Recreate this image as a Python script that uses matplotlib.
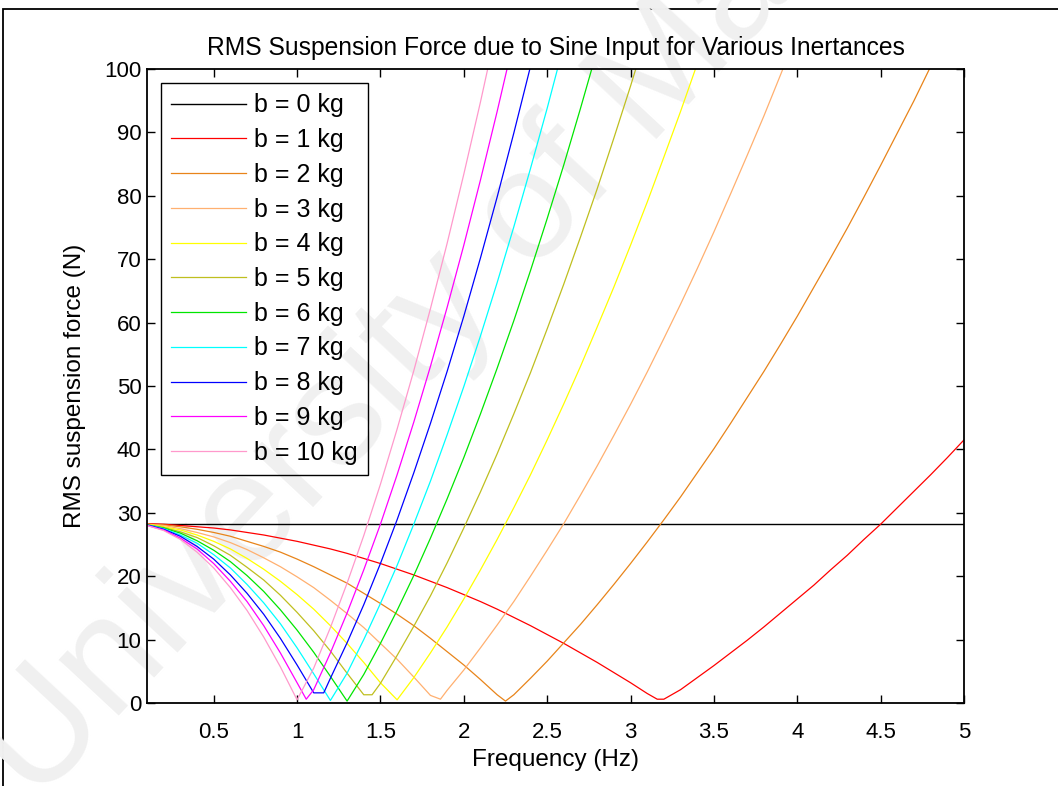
import matplotlib.pyplot as plt
from matplotlib.patches import Rectangle

plt.rcParams["font.family"] = ["Liberation Sans", "DejaVu Sans"]

# frequency grid (Hz) read along the x axis
freq = [0.1, 0.2, 0.3, 0.4, 0.5, 0.6, 0.7, 0.8, 0.9, 1.0,
        1.1, 1.2, 1.3, 1.4, 1.5, 1.6, 1.7, 1.8, 1.9, 2.0,
        2.1, 2.2, 2.3, 2.4, 2.5, 2.6, 2.7, 2.8, 2.9, 3.0,
        3.1, 3.2, 3.3, 3.4, 3.5, 3.6, 3.7, 3.8, 3.9, 4.0,
        4.1, 4.2, 4.3, 4.4, 4.5, 4.6, 4.7, 4.8, 4.9, 5.0]

# b = 0 kg: flat line
freq_b0 = [0.1, 5.0]
force_b0 = [28.28, 28.28]

# RMS force (N) for b = 1..10 kg, each runs until it leaves the top of the plot
force_b1 = [28.3, 28.2, 28.0, 27.8, 27.6, 27.3, 26.9, 26.5, 26.0, 25.5,
            24.9, 24.3, 23.6, 22.8, 22.0, 21.1, 20.2, 19.2, 18.2, 17.1,
            16.0, 14.8, 13.5, 12.2, 10.8, 9.4, 7.9, 6.4, 4.8, 3.2,
            1.5, 0.6, 2.1, 4.0, 5.9, 7.9, 9.9, 12.0, 14.2, 16.4,
            18.6, 21.0, 23.3, 25.8, 28.2, 30.8, 33.4, 36.0, 38.7, 41.5]
force_b2 = [28.2, 28.1, 27.8, 27.4, 26.9, 26.3, 25.5, 24.7, 23.8, 22.7,
            21.5, 20.2, 18.9, 17.3, 15.7, 14.0, 12.2, 10.2, 8.1, 6.0,
            3.7, 1.3, 1.3, 3.9, 6.6, 9.5, 12.4, 15.5, 18.7, 22.0,
            25.4, 28.9, 32.5, 36.3, 40.1, 44.1, 48.2, 52.3, 56.6, 61.0,
            65.6, 70.2, 74.9, 79.8, 84.8, 89.9, 95.0, 100.4]
force_b3 = [28.2, 28.0, 27.5, 26.9, 26.2, 25.3, 24.2, 22.9, 21.5, 19.9,
            18.2, 16.2, 14.1, 11.9, 9.4, 6.9, 4.1, 1.2, 2.0, 5.2,
            8.7, 12.3, 16.0, 20.0, 24.1, 28.3, 32.8, 37.4, 42.2, 47.1,
            52.2, 57.5, 62.9, 68.5, 74.3, 80.3, 86.4, 92.6, 99.1, 105.7]
force_b4 = [28.2, 27.8, 27.3, 26.5, 25.5, 24.3, 22.8, 21.1, 19.2, 17.1,
            14.8, 12.2, 9.4, 6.4, 3.2, 0.5, 4.0, 7.9, 12.0, 16.4,
            21.0, 25.8, 30.8, 36.0, 41.5, 47.2, 53.1, 59.3, 65.6, 72.2,
            79.0, 86.1, 93.3, 100.8]
force_b5 = [28.1, 27.7, 27.0, 26.1, 24.8, 23.3, 21.4, 19.4, 17.0, 14.3,
            11.4, 8.2, 4.7, 1.3, 3.1, 7.5, 12.1, 16.9, 22.1, 27.6,
            33.3, 39.3, 45.6, 52.1, 59.0, 66.1, 73.5, 81.1, 89.1, 97.3,
            105.9]
force_b6 = [28.1, 27.6, 26.8, 25.6, 24.1, 22.3, 20.1, 17.6, 14.7, 11.5,
            8.0, 4.2, 0.3, 4.5, 9.4, 14.6, 20.1, 26.0, 32.2, 38.7,
            45.6, 52.8, 60.3, 68.2, 76.4, 84.9, 93.8, 103.0]
force_b7 = [28.1, 27.5, 26.5, 25.2, 23.4, 21.3, 18.7, 15.8, 12.5, 8.7,
            4.6, 0.4, 4.7, 10.0, 15.7, 21.7, 28.2, 35.0, 42.3, 49.9,
            57.9, 66.3, 75.1, 84.3, 93.8, 103.8]
force_b8 = [28.1, 27.4, 26.3, 24.7, 22.7, 20.2, 17.3, 14.0, 10.2, 6.0,
            1.6, 3.9, 9.5, 15.5, 22.0, 28.9, 36.3, 44.1, 52.3, 61.0,
            70.2, 79.8, 89.9, 100.4]
force_b9 = [28.0, 27.3, 26.0, 24.3, 22.0, 19.2, 16.0, 12.2, 7.9, 3.2,
            2.1, 7.9, 14.2, 21.0, 28.2, 36.0, 44.3, 53.1, 62.4, 72.2,
            82.5, 93.3, 104.6]
force_b10 = [28.0, 27.2, 25.8, 23.8, 21.3, 18.2, 14.6, 10.4, 5.7, 0.5,
             5.5, 11.9, 18.9, 26.4, 34.5, 43.2, 52.4, 62.2, 72.5, 83.4,
             94.8, 106.8]

# extra points at the notch of each curve (between grid frequencies)
dip_freq = [3.16, 2.25, 1.86, None, 1.45, None, None, 1.16, 1.055, None]
dip_force = [0.6, 0.3, 0.6, None, 1.3, None, None, 1.6, 0.6, None]

labels = [f"b = {b} kg" for b in range(11)]
colors = ["#000000", "#ff0000", "#e8841a", "#ffb070", "#ffff00", "#bfbf1f",
          "#00e600", "#00ffff", "#0000ff", "#ff00ff", "#ff99cc"]

x_ticks = [0.5, 1, 1.5, 2, 2.5, 3, 3.5, 4, 4.5, 5]
x_tick_labels = ["0.5", "1", "1.5", "2", "2.5", "3", "3.5", "4", "4.5", "5"]
y_ticks = [0, 10, 20, 30, 40, 50, 60, 70, 80, 90, 100]

fig = plt.figure(figsize=(10.58, 7.86), dpi=100)

# page frame and watermark (behind the axes)
fig.patches.append(Rectangle((0.003, -0.05), 1.2, 0.9885 + 0.05, transform=fig.transFigure,
                             fill=False, edgecolor="black", linewidth=1.3, zorder=-2))
fig.text(0.4565, 0.662, "University of Malaya", rotation=47, ha="center", va="center",
         fontsize=112, color="#f0f0f0", zorder=-1)

ax = fig.add_axes([147 / 1058, 1 - 703 / 786, 817 / 1058, 634 / 786])
ax.set_facecolor("none")

ax.plot(freq_b0, force_b0, color=colors[0], linewidth=1.0, label=labels[0])
curves = [force_b1, force_b2, force_b3, force_b4, force_b5,
          force_b6, force_b7, force_b8, force_b9, force_b10]
for i, vals in enumerate(curves):
    pts = list(zip(freq[:len(vals)], vals))
    if dip_freq[i] is not None:
        pts.append((dip_freq[i], dip_force[i]))
    pts.sort()
    ax.plot([p[0] for p in pts], [p[1] for p in pts], color=colors[i + 1],
            linewidth=0.9, label=labels[i + 1])

ax.set_xlim(0.1, 5)
ax.set_ylim(0, 100)
ax.set_xticks(x_ticks)
ax.set_xticklabels(x_tick_labels)
ax.set_yticks(y_ticks)
ax.tick_params(direction="in", length=6, width=1, top=True, right=True,
               labelsize=16)
ax.tick_params(axis="x", pad=14)
ax.tick_params(axis="y", pad=4)
for s in ax.spines.values():
    s.set_linewidth(1.3)

ax.set_title("RMS Suspension Force due to Sine Input for Various Inertances",
             fontsize=17.7, pad=10)
ax.set_xlabel("Frequency (Hz)", fontsize=17.5, labelpad=4)
ax.set_ylabel("RMS suspension force (N)", fontsize=17.5, labelpad=13)

leg = ax.legend(loc="upper left", fontsize=18, frameon=True, fancybox=False,
                edgecolor="black", facecolor="none", framealpha=1,
                handlelength=3.0, handletextpad=0.32, labelspacing=0.43,
                borderpad=0.42, borderaxespad=0.55)
leg.get_frame().set_linewidth(1.0)

fig.savefig("out.png", dpi=100)
